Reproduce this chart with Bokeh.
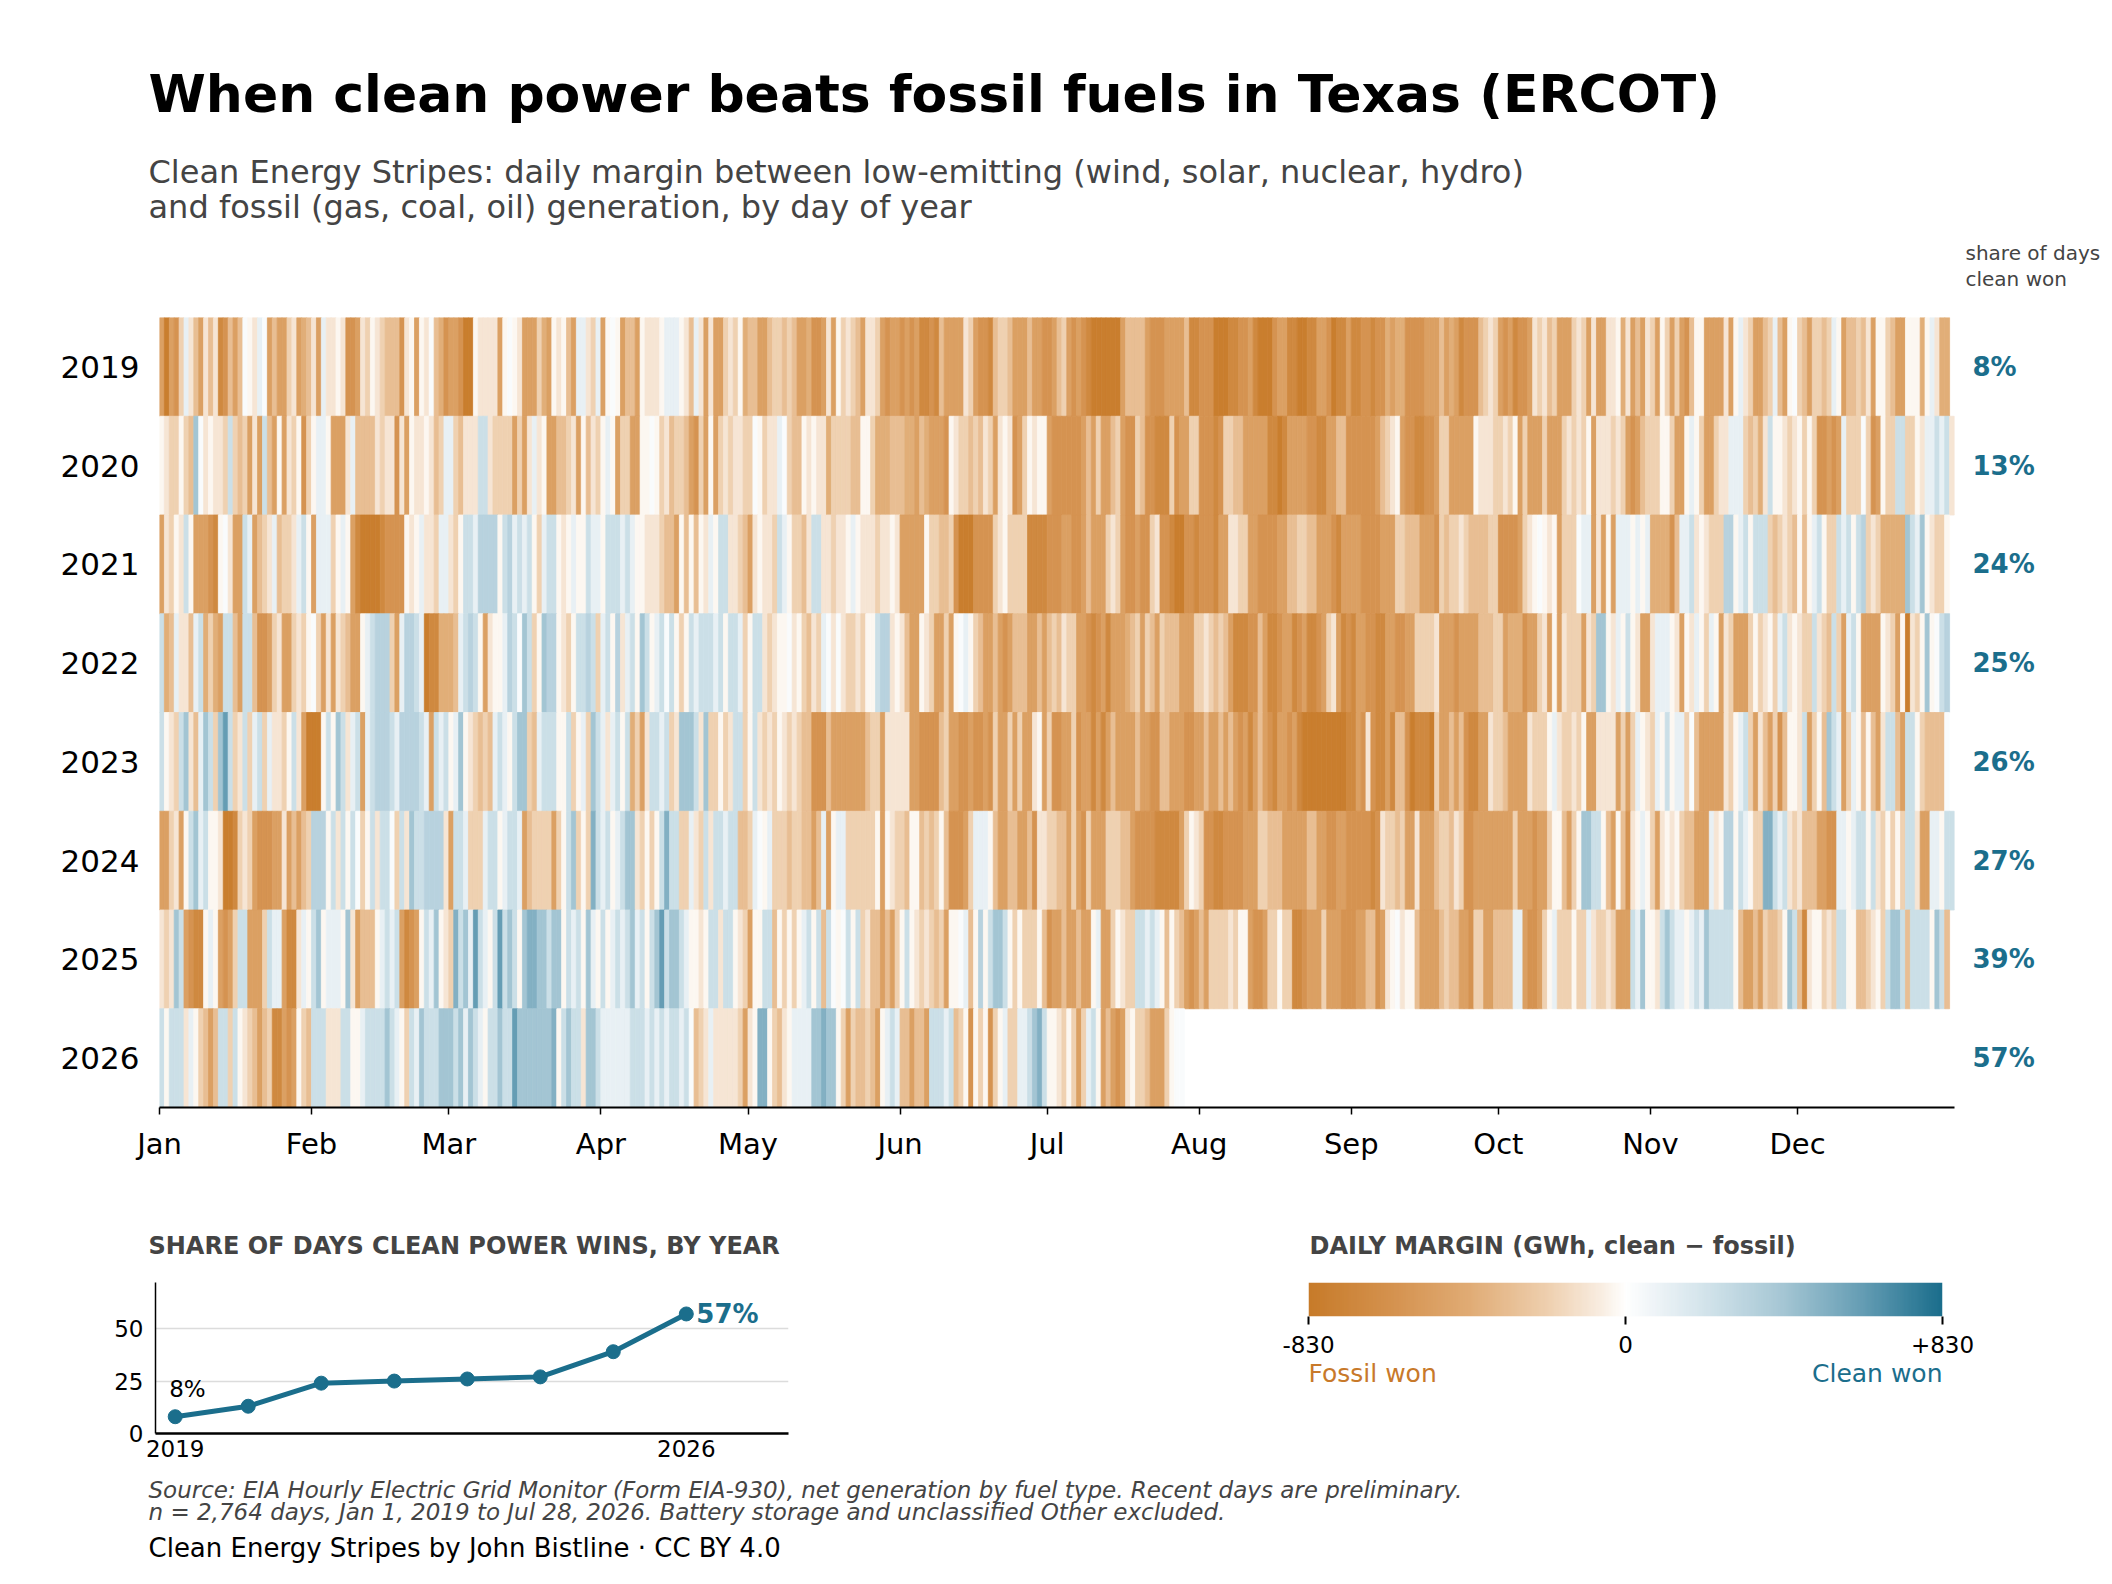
import numpy as np
from bokeh.plotting import figure
from bokeh.layouts import column, row
from bokeh.models import ColumnDataSource, Range1d, FixedTicker, LinearAxis, LinearColorMapper
from bokeh.transform import linear_cmap
from bokeh.core.properties import value
from bokeh.embed import file_html
from bokeh.resources import INLINE

FONT = "DejaVu Sans"
TEAL = "#1b6e8c"
ORANGE = "#c8792a"
GREY = "#444444"
W = 2112

years = [2019, 2020, 2021, 2022, 2023, 2024, 2025, 2026]
share_clean = [8, 13, 24, 25, 26, 27, 39, 57]
month_names = ["Jan", "Feb", "Mar", "Apr", "May", "Jun", "Jul", "Aug", "Sep", "Oct", "Nov", "Dec"]
month_start = [0, 31, 59, 90, 120, 151, 181, 212, 243, 273, 304, 334]
cbar_ticks = [-830, 0, 830]
cbar_labels = ["-830", "0", "+830"]

# daily margin (GWh, clean - fossil), one code per day, one string per month
# digits 1-8: fossil won by 100-800 GWh, 0: about -30, ".": about +30,
# letters a-f: clean won by 110-620 GWh
CODE = {"0": -30, ".": 30, "a": 110, "b": 240, "c": 330, "d": 420, "e": 520, "f": 620}
CODE.update({str(n): -100 * n for n in range(1, 9)})

m2019 = ["58562 a1351 31763 53.01 a.535 52154 3", "15a11 01665 12012 33361 0501. 346",
         "55688 01111 50.01 55524 50103 5aa12 a", "50.05 33501 110aa a013a 15155 21204",
         "33553 22323 55466 51502 12351 12565 5", "65657 76735 55512 56673 22355 53556",
         "65325 65678 88888 53333 56665 55537 7", "66688 87766 57888 65577 88775 56877 5",
         "77667 66454 46666 55535 45766 63212", "56576 65121 32555 21251 55110 41535 1",
         "25025 25630 05555 150a1 25532 a350.", "23522 32a05 33231 50023 55000 40a14 4"]
m2020 = ["01220 23d.1 0112b 23251 5b350 51206 2", "0aa05 551a3 33312 11615 01101 32aa",
         "23111 bb122 22525 1a105 53321 50312 0", "a0522 5500. 02132 23562 50521 21122",
         ".0211 a.233 01011 42222 33002 44433 3", "44534 55560 12232 31251 01652 01005",
         "66666 65352 55325 66236 67772 65522 6", "66762 23355 55577 87555 56677 55336 6",
         "66665 32105 66776 65225 55550 11122", "12052 55525 55212 12051 11212 56532 2",
         "20025 50a02 55211 aaa23 241b0 01210", "20266 565a2 22.26 5022b b2201 aabab 1"]
m2021 = ["51201 b0555 670.1 55ba5 321a3 221ab 0", "5aaa2 0a057 88887 66660 10a11 2aa",
         "120bb acccc 0bcab ab02a bb010 a00ba a", "0bbba ba001 11233 50303 01a0b b1123",
         "51011 2ba02 231bb 11211 0a011 12110 1", "55555 02233 26888 66662 10222 27777",
         "66655 66535 55212 56656 62166 78866 7", "66675 51122 55666 65533 22335 55675 5",
         "55666 65552 23335 55623 22123 33322", "66665 210.0 10522 2.aa5 1505a aa0a0 a",
         "44446 3aab1 01222 cc0ab 0bbb2 32123", "030ab 022ba b0bc2 12444 44dba d0122 0"]
m2022 = ["b43a1 13ab4 245bb 35bb3 66521 55212 0", ".2515 12355 0abcc c25ac cba87 744",
         "43abc b0510 0acb. db20d cc012 0bbcb 2", "ab0c1 ab0db 0ab.b 020ba bbbab 0bba2",
         "0bb12 100.1 02312 a.1.1 22120 0bcc1 0", "13550 12552 50.a0 23553 56533 35535",
         "32312 25567 65755 54325 23523 33555 2", "21232 35777 66357 76557 65776 52157 6",
         "75566 77556 65522 22155 56555 53332", "25444 65521 50512 22512 dd01a 0b015 5",
         "1aaa0 1501a 02a05 12555 20210 2ab10", "122b1 23b25 ab055 55012 50812 0d0.b c"]
m2023 = ["b012b d13ad b2dfb 21b2a b2a11 20b15 8", "880b0 db1ab 5abcc cbacc ccba5 bab",
         "0ad01 2323a ba0bd d23ab bb00b 20a2d b", "a1ab0 b4251 bbab2 1dddb 1d220 21bb2",
         "0b121 20121 23366 63555 55553 22511 1", "11556 66632 55665 66562 55252 55105",
         "26655 26557 57535 55535 56633 55566 5", "53553 53565 75356 75565 78888 88888 7",
         "75616 77573 36877 78255 35367 75512", "23555 51222 0a122 12055 11115 252a0 1",
         "2a0b0 aa2.3 55555 120ab 25135 26300", "1b520 3dba5 2a030 351bb 35bb0 23333 ."]
m2024 = ["55215 0bdab 00188 72125 66655 15353 2", "ccc0b 1b0b. 20b1b b.2b1 dbbcc cc15",
         "bba22 2abb0 abba5 32222 520bd 202eb a", "b0abd d1202 0bebb 22a12 b1bba bb332",
         "a.0a2 22322 3353a 50aa2 22222 05012 2", "30032 32036 6652a aa035 53355 36112",
         "23352 56255 52223 35666 67777 75201 2", "66776 66655 52233 35555 53355 66556 6",
         "66676 12232 55155 53223 12665 55555", "55255 56552 00352 0ddbb 03503 610a0 2",
         "51010 23355 5a10c c0ba0 22eeb ab121", "33355 66aa0 abb0b 12020 2bb15 5aa0b b"]
m2025 = ["121db 56770 a0565 2bb55 52baa 5771a 0", "bd0aa a0d15 3330a bab57 650ba d01",
         "2ebda fba0b fbdb0 deedd bdd0b ab0da 0", "b0aba bdab0 bdfbd dba00 10bb1 bb012",
         "500bb 30202 0ab0b 3b.0. b0b21 33535 2", "0b012 12325 00.a3 0c0bd db020 22203",
         "65535 53550 a5520 122bb aba03 02356 5", "35222 21200 56652 20227 76555 25556 6",
         "65533 6510. 10035 55532 33556 22553", "333aa 56652 0a222 022a1 22125 55bad 0",
         "01bdb aa0ab adbbb bb035 53523 320db", "37100 212bb 00332 102bd db3bb bb0db 3"]
m2026 = ["b0bbb 1a023 53bb2 b0123 53277 56502 3", "bbb11 1bb00 abbbb dba02 badbb bdd",
         "dbdad ba0bb dbbfd ddddd de0bd bb1dd b", "aaaaa abbba babab bab.3 21a11 11125",
         "10ee0 2310a aaadd edd02 52332 350ab a", "33533 5bbba b3206 02062 0a22a abdeb",
         "00120 252ab 05356 51022 35552 0.."]
all_months = [m2019, m2020, m2021, m2022, m2023, m2024, m2025, m2026]

daily = {}
for year, months in zip(years, all_months):
    lens = [31, 29 if year % 4 == 0 else 28, 31, 30, 31, 30, 31, 31, 30, 31, 30, 31][:len(months)]
    if year == 2026:
        lens[-1] = 28  # data ends Jul 28, 2026
    vals = []
    for k, (txt, n) in enumerate(zip(months, lens)):
        codes = txt.replace(" ", "")
        if len(codes) != n:
            raise ValueError(f"{year} {month_names[k]}: {len(codes)} days, expected {n}")
        vals += [CODE[c] for c in codes]
    daily[year] = vals

left, right, bottom, top, margin = [], [], [], [], []
for i, year in enumerate(years):
    r = len(years) - 1 - i
    for d, v in enumerate(daily[year]):
        left.append(d)
        right.append(d + 1)
        bottom.append(r - 0.5)
        top.append(r + 0.5)
        margin.append(v)
src = ColumnDataSource(dict(left=left, right=right, bottom=bottom, top=top, margin=margin))

# diverging palette, brown -> white -> teal
stop_v = [-830, -622, -415, -207, -60, 0, 60, 207, 415, 622, 830]
stop_c = ["#c77b2a", "#d4914d", "#e0ab74", "#eecfae", "#f9eee3", "#ffffff",
          "#f2f6f9", "#d3e4eb", "#a5c6d4", "#659db4", "#1b6e8c"]
rgb = np.array([[int(c[k:k + 2], 16) for k in (1, 3, 5)] for c in stop_c], float)
palette = ["#%02x%02x%02x" % tuple(int(round(np.interp(g, stop_v, rgb[:, ch]))) for ch in range(3))
           for g in np.linspace(-830, 830, 256)]
mapper = LinearColorMapper(palette=palette, low=-830, high=830)

COMMON = dict(output_backend="svg", toolbar_location=None, title_location=None,
              outline_line_color=None, frame_align=False)


def text_panel(width, height):
    f = figure(width=width, height=height, x_range=Range1d(0, width), y_range=Range1d(height, 0),
               x_axis_location=None, y_axis_location=None, min_border=0, **COMMON)
    f.grid.visible = False
    return f


def put(f, x, y, txt, size, color="black", style="normal", align="left"):
    f.text(x=[x], y=[y], text=[txt], text_font=value(FONT), text_font_size=size,
           text_color=color, text_font_style=style, text_align=align, text_baseline="alphabetic")


# header
head = text_panel(W, 298)
put(head, 148, 93, "When clean power beats fossil fuels in Texas (ERCOT)", "52px", "black", "bold")
put(head, 148, 171, "Clean Energy Stripes: daily margin between low-emitting (wind, solar, nuclear, hydro)",
    "32px", GREY)
put(head, 148, 206, "and fossil (gas, coal, oil) generation, by day of year", "32px", GREY)
put(head, 1965, 252, "share of days", "20px", GREY)
put(head, 1965, 278, "clean won", "20px", GREY)

# stripes
p = figure(width=W, height=910, x_range=Range1d(0, 366), y_range=Range1d(-0.5, 7.5),
           min_border_left=159, min_border_right=158, min_border_top=19, min_border_bottom=101,
           **COMMON)
p.grid.visible = False
p.quad(left="left", right="right", bottom="bottom", top="top", source=src,
       fill_color=linear_cmap("margin", palette, -830, 830),
       line_color=linear_cmap("margin", palette, -830, 830), line_width=0.8)

xa = p.xaxis[0]
xa.ticker = FixedTicker(ticks=month_start)
xa.major_label_overrides = {s: n for s, n in zip(month_start, month_names)}
xa.axis_line_color = "black"
xa.axis_line_width = 2
xa.major_tick_line_color = "black"
xa.major_tick_line_width = 1.5
xa.major_tick_out = 7
xa.major_tick_in = 0
xa.minor_tick_line_color = None
xa.major_label_text_font = FONT
xa.major_label_text_font_size = "29px"
xa.major_label_text_color = "black"
xa.major_label_standoff = 12

rows = list(range(len(years)))
ya = p.yaxis[0]
ya.ticker = FixedTicker(ticks=rows)
ya.major_label_overrides = {len(years) - 1 - i: str(y) for i, y in enumerate(years)}
ya.axis_line_color = None
ya.major_tick_line_color = None
ya.major_tick_out = 0
ya.major_tick_in = 0
ya.minor_tick_line_color = None
ya.major_label_text_font = FONT
ya.major_label_text_font_size = "31px"
ya.major_label_text_color = "black"
ya.major_label_standoff = 20

ra = LinearAxis(ticker=FixedTicker(ticks=rows),
                major_label_overrides={len(years) - 1 - i: f"{s}%" for i, s in enumerate(share_clean)},
                axis_line_color=None, major_tick_line_color=None, minor_tick_line_color=None,
                major_tick_out=0, major_tick_in=0,
                major_label_text_font=FONT, major_label_text_font_size="26px",
                major_label_text_font_style="bold", major_label_text_color=TEAL,
                major_label_standoff=18)
p.add_layout(ra, "right")

# section headings
mid = text_panel(W, 60)
put(mid, 148, 37, "SHARE OF DAYS CLEAN POWER WINS, BY YEAR", "24px", GREY, "bold")
put(mid, 1309, 37, "DAILY MARGIN (GWh, clean \u2212 fossil)", "24px", GREY, "bold")

# share line chart
lp = figure(width=1100, height=200, x_range=Range1d(2018.73, 2027.4), y_range=Range1d(0, 72),
            min_border_left=155, min_border_right=312, min_border_top=14, min_border_bottom=35,
            **COMMON)
lp.xgrid.visible = False
lp.ygrid.ticker = FixedTicker(ticks=[25, 50])
lp.ygrid.grid_line_color = "#dcdcdc"
lp.ygrid.grid_line_width = 1.5
lp.line(years, share_clean, line_color=TEAL, line_width=5)
lp.scatter(years, share_clean, size=14, fill_color=TEAL, line_color=TEAL)
lp.text(x=[years[0]], y=[share_clean[0]], text=[f"{share_clean[0]}%"], x_offset=-6, y_offset=-28,
        text_font=value(FONT), text_font_size="23px", text_color="black", text_baseline="alphabetic")
lp.text(x=[years[-1]], y=[share_clean[-1]], text=[f"{share_clean[-1]}%"], x_offset=10,
        text_font=value(FONT), text_font_size="26px", text_font_style="bold", text_color=TEAL,
        text_baseline="middle")
for ax, ticks, lw, so in ((lp.xaxis[0], [years[0], years[-1]], 2.5, 6),
                          (lp.yaxis[0], [0, 25, 50], 1.5, 12)):
    ax.ticker = FixedTicker(ticks=ticks)
    ax.axis_line_color = "black"
    ax.axis_line_width = lw
    ax.major_tick_line_color = None
    ax.major_tick_out = 0
    ax.major_tick_in = 0
    ax.minor_tick_line_color = None
    ax.major_label_text_font = FONT
    ax.major_label_text_font_size = "23px"
    ax.major_label_text_color = "black"
    ax.major_label_standoff = so

# colour scale: bar with its axis, then the two end captions
CW = W - 1100
cp = figure(width=CW, height=92, x_range=Range1d(-830, 830), y_range=Range1d(0, 1),
            y_axis_location=None,
            min_border_left=208, min_border_right=170, min_border_top=14, min_border_bottom=44,
            **COMMON)
cp.grid.visible = False
cp.image(image=[np.linspace(-830, 830, 600).reshape(1, -1)], x=-830, y=0, dw=1660, dh=1,
         color_mapper=mapper)
ca = cp.xaxis[0]
ca.ticker = FixedTicker(ticks=cbar_ticks)
ca.major_label_overrides = dict(zip(cbar_ticks, cbar_labels))
ca.axis_line_color = None
ca.major_tick_line_color = "black"
ca.major_tick_line_width = 2
ca.major_tick_out = 8
ca.major_tick_in = 0
ca.minor_tick_line_color = None
ca.major_label_text_font = FONT
ca.major_label_text_font_size = "23px"
ca.major_label_text_color = "black"
ca.major_label_standoff = 11

cap = text_panel(CW, 108)
put(cap, 208, 13, "Fossil won", "25px", ORANGE)
put(cap, 842, 13, "Clean won", "25px", TEAL, align="right")

# footer
foot = text_panel(W, 114)
put(foot, 148, 21, "Source: EIA Hourly Electric Grid Monitor (Form EIA-930), net generation by fuel type. "
    "Recent days are preliminary.", "23px", GREY, "italic")
put(foot, 148, 43, "n = 2,764 days, Jan 1, 2019 to Jul 28, 2026. Battery storage and unclassified Other "
    "excluded.", "23px", GREY, "italic")
put(foot, 148, 79, "Clean Energy Stripes by John Bistline \u00b7 CC BY 4.0", "26px", "black")

layout = column(head, p, mid, row(lp, column(cp, cap)), foot)
open("out.html", "w").write(file_html(layout, INLINE))
